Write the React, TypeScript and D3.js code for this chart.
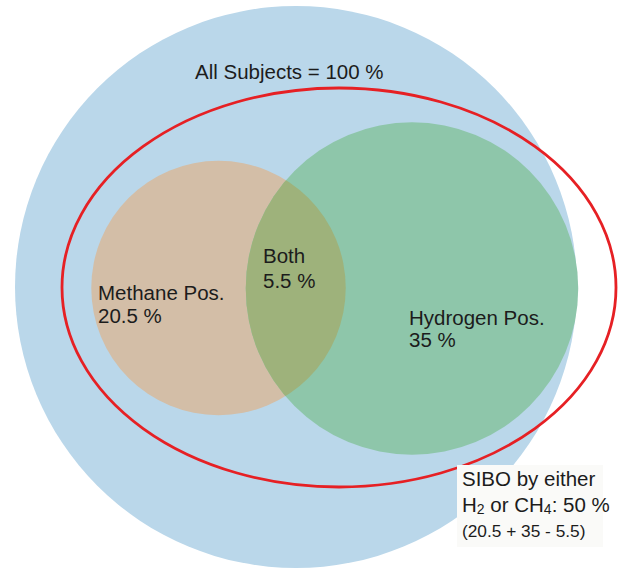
import React, { useEffect, useRef } from 'react'
import * as d3 from 'd3'

// set sizes (% of all subjects) -> circle area
const setNames = ['All Subjects', 'Methane Pos.', 'Hydrogen Pos.']
const setValues = [100, 20.5, 35]
const setColors = ['#bad7ea', '#d3bea7', '#8ec6aa']
const bothValue = 5.5
const sumValue = 50
const overlapColor = '#9eb27b'

const W = 621
const H = 568

export default function App() {
  const svgRef = useRef<SVGSVGElement>(null)

  useEffect(() => {
    if (!svgRef.current) return
    const svg = d3.select(svgRef.current)
    svg.selectAll('*').remove()

    const font = '"Liberation Sans", Arial, sans-serif'
    const rScale = d3.scaleSqrt().domain([0, 100]).range([0, 281])

    // layout (circle centres)
    const centers = [
      { x: 296, y: 287 },
      { x: 218.5, y: 288 },
      { x: 412, y: 288.5 }
    ]

    const defs = svg.append('defs')
    defs.append('clipPath').attr('id', 'clip-methane')
      .append('circle')
      .attr('cx', centers[1].x).attr('cy', centers[1].y)
      .attr('r', rScale(setValues[1]))

    svg.selectAll('circle.set')
      .data(setValues)
      .enter().append('circle')
      .attr('class', 'set')
      .attr('cx', (d, i) => centers[i].x)
      .attr('cy', (d, i) => centers[i].y)
      .attr('r', d => rScale(d))
      .attr('fill', (d, i) => setColors[i])

    // overlap
    svg.append('circle')
      .attr('cx', centers[2].x).attr('cy', centers[2].y)
      .attr('r', rScale(setValues[2]))
      .attr('fill', overlapColor)
      .attr('clip-path', 'url(#clip-methane)')

    // SIBO ellipse
    svg.append('ellipse')
      .attr('cx', 339).attr('cy', 287.5)
      .attr('rx', 277).attr('ry', 199.5)
      .attr('fill', 'none')
      .attr('stroke', '#e62024')
      .attr('stroke-width', 2.8)

    const txt = (x: number, y: number, s: string, size = 20.5) =>
      svg.append('text')
        .attr('x', x).attr('y', y)
        .attr('font-family', font)
        .attr('font-size', size)
        .attr('fill', '#1c1c1c')
        .text(s)

    txt(195, 79, `${setNames[0]} = ${setValues[0]} %`)
    txt(98, 300, setNames[1])
    txt(98, 323, `${setValues[1]} %`)
    txt(263, 263, 'Both')
    txt(263, 288, `${bothValue} %`)
    txt(409, 325, setNames[2])
    txt(409, 347, `${setValues[2]} %`)

    // SIBO label box
    svg.append('rect')
      .attr('x', 457).attr('y', 465)
      .attr('width', 146).attr('height', 82)
      .attr('fill', '#fafaf8')

    txt(462, 486, 'SIBO by either')
    const t2 = txt(462, 512, '')
    t2.append('tspan').text('H')
    t2.append('tspan').attr('font-size', 14).attr('dy', 2).text('2')
    t2.append('tspan').attr('dy', -2).text(' or CH')
    t2.append('tspan').attr('font-size', 14).attr('dy', 2).text('4')
    t2.append('tspan').attr('dy', -2).text(`: ${sumValue} %`)
    txt(462, 537, `(${setValues[1]} + ${setValues[2]} - ${bothValue})`, 17.3)
  }, [])

  return (
    <svg
      ref={svgRef}
      width={W}
      height={H}
      style={{ position: 'absolute', left: 0, top: 0, background: '#fff' }}
    />
  )
}
